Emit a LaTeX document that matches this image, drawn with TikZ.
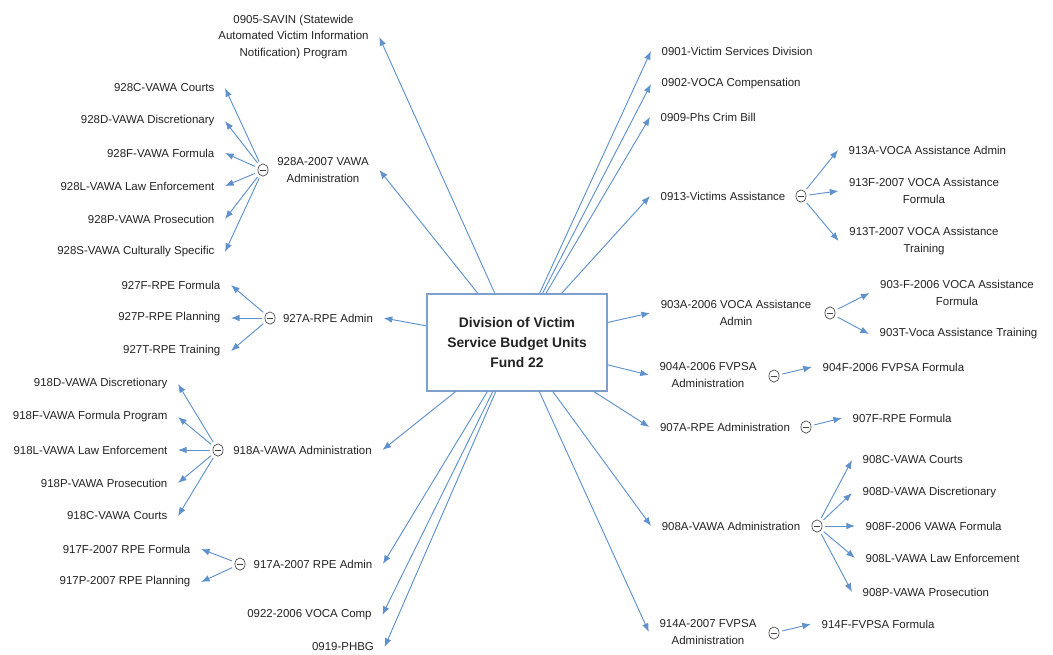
\documentclass[tikz,border=0pt]{standalone}
\usepackage{fontspec}
\setmainfont{Liberation Sans}
\usetikzlibrary{arrows.meta,shapes.geometric}
\definecolor{linkblue}{RGB}{95,145,205}
\definecolor{boxblue}{RGB}{125,160,205}
\definecolor{inkgray}{RGB}{35,35,35}

\begin{document}
\begin{tikzpicture}[x=0.75pt,y=-0.75pt]
        \tikzstyle{every node}=[text=inkgray, font=\fontsize{8.6}{12.4}\selectfont]
        \tikzstyle{topic}=[inner sep=2pt, outer sep=6pt, align=center]
        \tikzstyle{fold}=[draw=inkgray!85, line width=0.5pt, ellipse, inner sep=0pt, minimum width=7.6pt, minimum height=9.2pt, outer sep=2.5pt,
            path picture={\draw[inkgray!85, line width=0.5pt] ([xshift=-2.6pt]path picture bounding box.center) -- ([xshift=2.6pt]path picture bounding box.center);}]
        \tikzstyle{branch}=[draw=linkblue, line width=0.7pt, -{Latex[length=6.5pt,width=5pt]}]

        \useasboundingbox (0,0) rectangle (1053,654);

        \node   (root)  at (517,342.5) [draw=boxblue, line width=0.9pt, minimum width=135pt, minimum height=72.75pt, align=center,
                         font=\fontsize{10.4}{15}\selectfont\bfseries] {Division of Victim\\Service Budget Units\\Fund 22};

        % left side
        \node   (v0905) at (293.5,37) [topic] {0905-SAVIN (Statewide\\Automated Victim Information\\Notification) Program};

        \node   (v928a) at (323,170) [topic] {928A-2007 VAWA\\Administration};
        \node   (f928a) at (263,170) [fold] {};
        \node   (v928c) at (225,88)  [topic, anchor=east] {928C-VAWA Courts};
        \node   (v928d) at (225,121) [topic, anchor=east] {928D-VAWA Discretionary};
        \node   (v928f) at (225,153) [topic, anchor=east] {928F-VAWA Formula};
        \node   (v928l) at (225,186) [topic, anchor=east] {928L-VAWA Law Enforcement};
        \node   (v928p) at (225,219) [topic, anchor=east] {928P-VAWA Prosecution};
        \node   (v928s) at (225,252) [topic, anchor=east] {928S-VAWA Culturally Specific};

        \node   (v927a) at (328,318) [topic] {927A-RPE Admin};
        \node   (f927a) at (270,318) [fold] {};
        \node   (v927f) at (231,285) [topic, anchor=east] {927F-RPE Formula};
        \node   (v927p) at (231,318) [topic, anchor=east] {927P-RPE Planning};
        \node   (v927t) at (231,351) [topic, anchor=east] {927T-RPE Training};

        \node   (v918a) at (302.5,450) [topic] {918A-VAWA Administration};
        \node   (f918a) at (218,450) [fold] {};
        \node   (v918d) at (178,384) [topic, anchor=east] {918D-VAWA Discretionary};
        \node   (v918f) at (178,417) [topic, anchor=east] {918F-VAWA Formula Program};
        \node   (v918l) at (178,450) [topic, anchor=east] {918L-VAWA Law Enforcement};
        \node   (v918p) at (178,483) [topic, anchor=east] {918P-VAWA Prosecution};
        \node   (v918c) at (178,516) [topic, anchor=east] {918C-VAWA Courts};

        \node   (v917a) at (313,564) [topic] {917A-2007 RPE Admin};
        \node   (f917a) at (240,564) [fold] {};
        \node   (v917f) at (201,549) [topic, anchor=east] {917F-2007 RPE Formula};
        \node   (v917p) at (201,582) [topic, anchor=east] {917P-2007 RPE Planning};

        \node   (v0922) at (309.5,615) [topic] {0922-2006 VOCA Comp};
        \node   (v0919) at (343,647) [topic] {0919-PHBG};

        % right side
        \node   (v0901) at (651,51)  [topic, anchor=west] {0901-Victim Services Division};
        \node   (v0902) at (651,84)  [topic, anchor=west] {0902-VOCA Compensation};
        \node   (v0909) at (650,117) [topic, anchor=west] {0909-Phs Crim Bill};

        \node   (v0913) at (723,196) [topic] {0913-Victims Assistance};
        \node   (f0913) at (801,196) [fold] {};
        \node   (v913a) at (838,150) [topic, anchor=west] {913A-VOCA Assistance Admin};
        \node   (v913f) at (924,191) [topic] {913F-2007 VOCA Assistance\\Formula};
        \node   (v913t) at (924,241) [topic] {913T-2007 VOCA Assistance\\Training};

        \node   (v903a) at (736,313) [topic] {903A-2006 VOCA Assistance\\Admin};
        \node   (f903a) at (830,313) [fold] {};
        \node   (v903f) at (957,293) [topic] {903-F-2006 VOCA Assistance\\Formula};
        \node   (v903t) at (869,334) [topic, anchor=west] {903T-Voca Assistance Training};

        \node   (v904a) at (708,375) [topic] {904A-2006 FVPSA\\Administration};
        \node   (f904a) at (774,376) [fold] {};
        \node   (v904f) at (812,367) [topic, anchor=west] {904F-2006 FVPSA Formula};

        \node   (v907a) at (725,427) [topic] {907A-RPE Administration};
        \node   (f907a) at (806,427) [fold] {};
        \node   (v907f) at (842,418) [topic, anchor=west] {907F-RPE Formula};

        \node   (v908a) at (731,526) [topic] {908A-VAWA Administration};
        \node   (f908a) at (817,526) [fold] {};
        \node   (v908c) at (852,460) [topic, anchor=west] {908C-VAWA Courts};
        \node   (v908d) at (852,493) [topic, anchor=west] {908D-VAWA Discretionary};
        \node   (v908f) at (855,526) [topic, anchor=west] {908F-2006 VAWA Formula};
        \node   (v908l) at (855,558) [topic, anchor=west] {908L-VAWA Law Enforcement};
        \node   (v908p) at (852,592) [topic, anchor=west] {908P-VAWA Prosecution};

        \node   (v914a) at (708,632) [topic] {914A-2007 FVPSA\\Administration};
        \node   (f914a) at (774,633) [fold] {};
        \node   (v914f) at (811,624) [topic, anchor=west] {914F-FVPSA Formula};

        % main branches
        \draw[branch] (root) -- (v0905.east);
        \draw[branch] (root) -- (v928a.east);
        \draw[branch] (root) -- (v927a.east);
        \draw[branch] (root) -- (v918a.east);
        \draw[branch] (root) -- (v917a.east);
        \draw[branch] (root) -- (v0922.east);
        \draw[branch] (root) -- (v0919.east);
        \draw[branch] (root) -- (v0901.west);
        \draw[branch] (root) -- (v0902.west);
        \draw[branch] (root) -- (v0909.west);
        \draw[branch] (root) -- (v0913.west);
        \draw[branch] (root) -- (v903a.west);
        \draw[branch] (root) -- (v904a.west);
        \draw[branch] (root) -- (v907a.west);
        \draw[branch] (root) -- (v908a.west);
        \draw[branch] (root) -- (v914a.west);

        % sub branches
        \draw[branch] (f928a) -- (v928c.east);
        \draw[branch] (f928a) -- (v928d.east);
        \draw[branch] (f928a) -- (v928f.east);
        \draw[branch] (f928a) -- (v928l.east);
        \draw[branch] (f928a) -- (v928p.east);
        \draw[branch] (f928a) -- (v928s.east);
        \draw[branch] (f927a) -- (v927f.east);
        \draw[branch] (f927a) -- (v927p.east);
        \draw[branch] (f927a) -- (v927t.east);
        \draw[branch] (f918a) -- (v918d.east);
        \draw[branch] (f918a) -- (v918f.east);
        \draw[branch] (f918a) -- (v918l.east);
        \draw[branch] (f918a) -- (v918p.east);
        \draw[branch] (f918a) -- (v918c.east);
        \draw[branch] (f917a) -- (v917f.east);
        \draw[branch] (f917a) -- (v917p.east);
        \draw[branch] (f0913) -- (v913a.west);
        \draw[branch] (f0913) -- (v913f.west);
        \draw[branch] (f0913) -- (v913t.west);
        \draw[branch] (f903a) -- (v903f.west);
        \draw[branch] (f903a) -- (v903t.west);
        \draw[branch] (f904a) -- (v904f.west);
        \draw[branch] (f907a) -- (v907f.west);
        \draw[branch] (f908a) -- (v908c.west);
        \draw[branch] (f908a) -- (v908d.west);
        \draw[branch] (f908a) -- (v908f.west);
        \draw[branch] (f908a) -- (v908l.west);
        \draw[branch] (f908a) -- (v908p.west);
        \draw[branch] (f914a) -- (v914f.west);

    \end{tikzpicture}
\end{document}
